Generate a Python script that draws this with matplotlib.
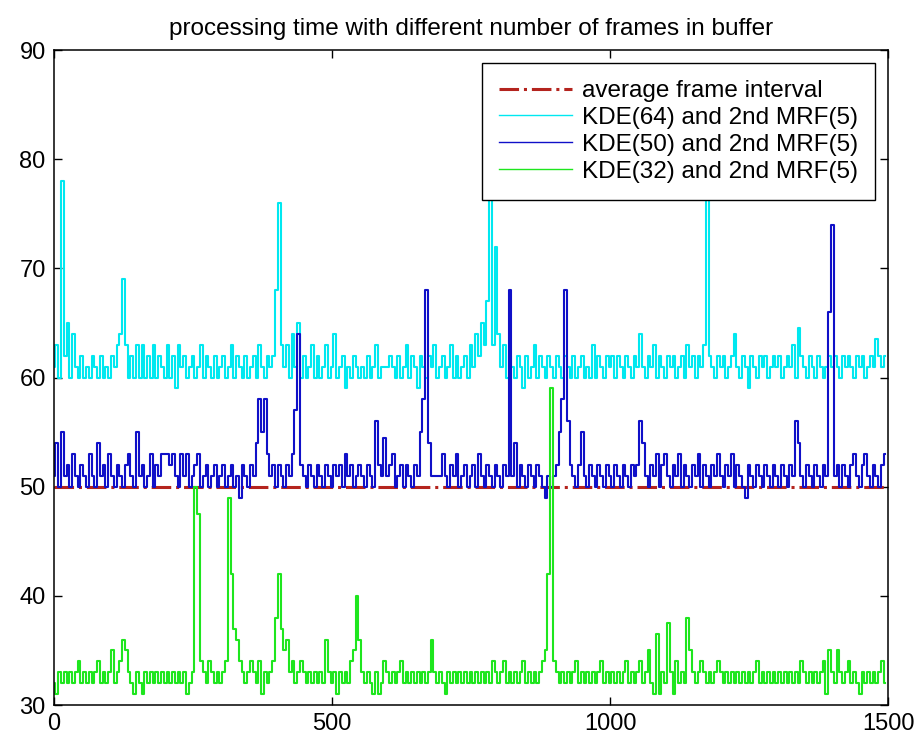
import numpy as np
import matplotlib
matplotlib.use("Agg")
import matplotlib.pyplot as plt

plt.rcParams["font.family"] = ["Liberation Sans", "DejaVu Sans"]

# frame index, sampled every 5 frames
frames = np.arange(0, 1500, 5)

# processing time (ms), one row = 100 frames
kde64 = [
    61, 63, 60, 78, 62, 65, 60, 64, 61, 60, 62, 60, 61, 60, 62, 61, 60, 62, 60, 61,
    60, 62, 61, 63, 64, 69, 63, 60, 62, 60, 63, 60, 63, 60, 62, 60, 63, 60, 62, 61,
    60, 63, 60, 62, 59, 63, 61, 62, 60, 61, 62, 60, 61, 63, 60, 62, 61, 60, 62, 60,
    61, 62, 60, 61, 63, 60, 62, 61, 60, 62, 60, 61, 62, 60, 63, 61, 60, 62, 61, 62,
    68, 76, 63, 61, 63, 60, 64, 61, 65, 60, 62, 60, 61, 63, 60, 62, 60, 61, 63, 60,
    61, 64, 60, 61, 62, 59, 61, 60, 62, 61, 60, 61, 60, 62, 60, 61, 63, 60, 61, 61,
    61, 62, 61, 60, 62, 60, 61, 63, 60, 62, 61, 59, 62, 61, 60, 62, 61, 63, 60, 61,
    62, 60, 61, 63, 60, 62, 60, 61, 62, 60, 63, 61, 64, 62, 65, 63, 67, 77, 63, 72,
    64, 61, 63, 60, 62, 61, 60, 62, 61, 59, 62, 60, 61, 63, 60, 62, 61, 60, 62, 61,
    60, 62, 61, 60, 62, 61, 60, 62, 60, 61, 62, 60, 61, 60, 63, 60, 62, 61, 60, 62,
    61, 62, 60, 62, 61, 60, 62, 61, 60, 62, 61, 64, 61, 60, 62, 61, 63, 60, 62, 61,
    60, 62, 61, 62, 60, 61, 62, 60, 63, 61, 62, 60, 62, 61, 63, 77, 62, 61, 60, 62,
    61, 62, 60, 61, 62, 64, 61, 60, 62, 61, 59, 62, 61, 60, 62, 61, 62, 60, 61, 62,
    61, 62, 60, 61, 62, 61, 63, 60, 64.5, 62, 61, 60, 62, 61, 60, 62, 61, 60, 61, 62,
    61, 62, 61, 60, 62, 61, 62, 61, 60, 62, 61, 62, 60, 61, 62, 61, 63.5, 62, 61, 62,
]
kde50 = [
    51, 54, 50, 55, 51, 52, 50, 53, 51, 50, 52, 51, 50, 53, 51, 50, 54, 51, 52, 50,
    53, 51, 50, 52, 51, 50, 52, 53, 51, 50, 55, 51, 52, 50, 51, 53, 50, 52, 51, 53,
    53, 53, 52, 53, 51, 50, 53, 51, 53, 50, 51, 52, 53, 50, 51, 52, 50, 51, 52, 50,
    51, 52, 50, 51, 52, 50, 51, 49, 52, 51, 50, 52, 51, 54, 58, 55, 58, 53, 51, 52,
    50, 52, 51, 50, 52, 51, 53, 57, 64, 52, 51, 50, 52, 51, 50, 52, 51, 50, 52, 51,
    50, 52, 51, 52, 50, 53, 51, 52, 50, 51, 52, 51, 50, 52, 51, 50, 56, 52, 51, 54.5,
    51, 52, 53, 50, 51, 52, 50, 52, 51, 50, 52, 51, 55, 58, 68, 54, 51, 51, 51, 51,
    53, 51, 50, 52, 51, 53, 50, 51, 52, 50, 51, 52, 50, 53, 51, 50, 52, 51, 50, 52,
    51, 50, 52, 51, 68, 51, 54, 50, 52, 51, 50, 52, 51, 50, 52, 51, 50, 49, 51, 50,
    51, 52, 55, 58, 68, 56, 52, 51, 50, 52, 55, 51, 50, 52, 51, 50, 52, 51, 50, 52,
    51, 50, 52, 51, 50, 52, 51, 50, 52, 51, 52, 56, 54, 51, 50, 52, 51, 53, 50, 52,
    53, 51, 50, 52, 51, 53, 50, 52, 51, 50, 52, 51, 53, 50, 52, 51, 50, 52, 51, 53,
    51, 50, 52, 51, 53, 50, 52, 51, 50, 49, 52, 51, 50, 52, 51, 50, 52, 51, 50, 52,
    51, 50, 52, 51, 50, 52, 51, 56, 54, 51, 50, 52, 51, 50, 52, 51, 50, 52, 51, 66,
    74, 51, 52, 50, 52, 51, 50, 52, 53, 51, 50, 52, 53, 51, 50, 52, 51, 50, 52, 53,
]
kde32 = [
    32, 31, 33, 32, 33, 32, 33, 32, 33, 34, 32, 33, 32, 33, 32, 33, 34, 32, 33, 32,
    33, 35, 32, 33, 34, 36, 35, 33, 32, 31, 33, 32, 31, 33, 32, 33, 32, 33, 32, 33,
    32, 33, 32, 33, 32, 33, 32, 33, 31, 32, 33, 50, 47.5, 34, 33, 32, 34, 33, 32, 33,
    32, 33, 34, 49, 42, 37, 36, 34, 33, 32, 33, 34, 33, 32, 34, 31, 33, 32, 33, 34,
    38, 42, 37, 35, 36, 33, 34, 32, 33, 34, 33, 32, 33, 32, 33, 32, 33, 32, 36, 33,
    32, 33, 31, 33, 32, 33, 32, 34, 35, 40, 36, 33, 32, 33, 32, 31, 33, 31, 32, 34,
    33, 32, 33, 32, 33, 34, 32, 33, 32, 33, 32, 33, 32, 33, 32, 33, 36, 33, 32, 33,
    32, 31, 33, 32, 33, 32, 33, 32, 33, 32, 33, 32, 33, 32, 33, 32, 33, 32, 34, 33,
    32, 33, 34, 32, 33, 32, 33, 32, 33, 34, 32, 33, 32, 33, 32, 33, 34, 35, 42, 59,
    34, 33, 32, 33, 32, 33, 32, 33, 34, 32, 33, 32, 33, 32, 33, 32, 33, 34, 32, 33,
    32, 33, 32, 33, 32, 33, 34, 32, 33, 32, 33, 34, 32, 33, 35, 32, 31, 36.5, 31, 33,
    32, 37.5, 33, 31, 34, 32, 33, 32, 38, 35, 33, 32, 33, 34, 33, 32, 33, 32, 33, 34,
    33, 32, 33, 32, 33, 32, 33, 32, 33, 32, 33, 32, 33, 34, 32, 33, 32, 33, 32, 33,
    32, 33, 32, 33, 32, 33, 32, 33, 32, 34, 33, 32, 33, 32, 33, 32, 33, 34, 31, 35,
    33, 32, 35, 33, 32, 33, 34, 32, 33, 32, 31, 33, 32, 33, 32, 33, 32, 33, 34, 32,
]
avg_interval = 50
x_range = [0, 1500]

fig = plt.figure(figsize=(9.17, 7.40), dpi=100)
ax = fig.add_axes([54 / 917, 35 / 740, 834 / 917, 655 / 740])

ax.plot(x_range, [avg_interval, avg_interval], linestyle="-.", color="#B4241E",
        linewidth=2.2, label="average frame interval")
ax.plot(frames, kde64, color="#00E8F0", linewidth=1.5, drawstyle="steps-mid",
        label="KDE(64) and 2nd MRF(5)")
ax.plot(frames, kde50, color="#1010C8", linewidth=1.5, drawstyle="steps-mid",
        label="KDE(50) and 2nd MRF(5)")
ax.plot(frames, kde32, color="#1EE61E", linewidth=1.5, drawstyle="steps-mid",
        label="KDE(32) and 2nd MRF(5)")

ax.set_xlim(0, 1500)
ax.set_ylim(30, 90)
ax.set_xticks([0, 500, 1000, 1500])
ax.set_yticks([30, 40, 50, 60, 70, 80, 90])
ax.tick_params(direction="in", length=6, width=1, top=True, right=True,
               labelsize=17, colors="black", pad=6)
for s in ax.spines.values():
    s.set_linewidth(1.1)

ax.set_title("processing time with different number of frames in buffer",
             fontsize=17.5, pad=11)

leg = ax.legend(loc="upper right", bbox_to_anchor=(0.984, 0.980), borderaxespad=0,
                fontsize=17.5, fancybox=False, framealpha=1, edgecolor="black",
                handlelength=3.0, handletextpad=0.4, labelspacing=0.2,
                borderpad=0.7)
leg.get_frame().set_linewidth(1.0)
for h in leg.get_lines():
    h.set_linewidth(1.0)
leg.get_lines()[0].set_linewidth(2.2)

fig.savefig("out.png", dpi=100)
